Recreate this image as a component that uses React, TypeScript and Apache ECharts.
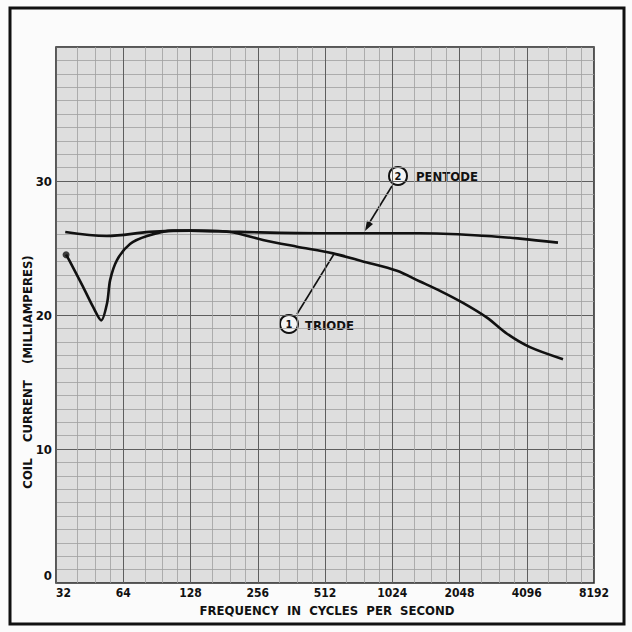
import React, { useEffect, useRef } from "react";
import * as echarts from "echarts";

const xTicks = [32, 64, 128, 256, 512, 1024, 2048, 4096, 8192];
const yTicks = [0, 10, 20, 30];

const triodeFreq = [35.5, 36.9, 42.3, 46.9, 51, 54.2, 55.9, 60, 68.6, 81.8, 107, 127, 192, 270, 384, 556, 757, 1075, 1363, 1675, 2123, 2718, 3342, 4232, 5950];
const triodeMA = [24.5, 24.0, 22.1, 20.6, 19.6, 20.9, 22.6, 24.1, 25.3, 25.9, 26.3, 26.3, 26.2, 25.6, 25.1, 24.6, 24.0, 23.3, 22.5, 21.8, 20.9, 19.8, 18.6, 17.6, 16.7];

const pentodeFreq = [35.2, 54, 84, 127, 213, 512, 1363, 2718, 3821, 5651];
const pentodeMA = [26.2, 25.9, 26.2, 26.3, 26.2, 26.1, 26.1, 25.9, 25.7, 25.4];

const xTitle = "FREQUENCY  IN  CYCLES  PER  SECOND";
const yTitle = "COIL    CURRENT    (MILLIAMPERES)";
const pentodeLabel = "PENTODE";
const triodeLabel = "TRIODE";

const FONT = "DejaVu Sans Condensed";

export default function App() {
  const ref = useRef<HTMLDivElement>(null);
  useEffect(() => {
    if (!ref.current) return;
    const chart = echarts.init(ref.current, null, { renderer: "svg" });
    const triode = triodeFreq.map((f, i) => [f, triodeMA[i]]);
    const pentode = pentodeFreq.map((f, i) => [f, pentodeMA[i]]);
    chart.setOption({
      animation: false,
      backgroundColor: "#fbfbfb",
      grid: {
        left: 56,
        right: 38,
        top: 47,
        bottom: 49,
        show: true,
        backgroundColor: "#dedede",
        borderColor: "#222",
        borderWidth: 1.5,
      },
      xAxis: {
        type: "log",
        logBase: 2,
        min: xTicks[0],
        max: xTicks[xTicks.length - 1],
        axisLine: { show: false },
        axisTick: { show: false },
        axisLabel: {
          formatter: (v: number) => String(Math.round(v)),
          color: "#111",
          fontWeight: "bold",
          fontSize: 12,
          fontFamily: FONT,
          margin: 4,
          alignMinLabel: "left",
        },
        splitLine: { show: true, lineStyle: { color: "#5e5e5e", width: 1 } },
        minorTick: { show: false, splitNumber: 4 },
        minorSplitLine: { show: true, lineStyle: { color: "#a0a0a0", width: 0.8 } },
      },
      yAxis: {
        type: "value",
        min: yTicks[0],
        max: 40,
        interval: 10,
        axisLine: { show: false },
        axisTick: { show: false },
        axisLabel: {
          formatter: (v: number) => (yTicks.includes(v) && v !== 0 ? String(v) : ""),
          color: "#111",
          fontWeight: "bold",
          fontSize: 13,
          fontFamily: FONT,
          margin: 4,
        },
        splitLine: { show: true, lineStyle: { color: "#5e5e5e", width: 1 } },
        minorTick: { show: false, splitNumber: 10 },
        minorSplitLine: { show: true, lineStyle: { color: "#a0a0a0", width: 0.8 } },
      },
      series: [
        {
          type: "line",
          name: "Triode",
          data: triode,
          smooth: 0.3,
          showSymbol: false,
          lineStyle: { color: "#111", width: 2.6 },
        },
        {
          type: "line",
          name: "Pentode",
          data: pentode,
          smooth: 0.35,
          showSymbol: false,
          lineStyle: { color: "#111", width: 2.6 },
        },
        {
          type: "scatter",
          data: [triode[0]],
          symbolSize: 7,
          itemStyle: { color: "#111" },
        },
      ],
      graphic: [
        {
          type: "rect",
          shape: { x: 10, y: 8, width: 614, height: 616 },
          style: { fill: "none", stroke: "#111", lineWidth: 3 },
        },
        {
          type: "text",
          x: 52,
          y: 575,
          style: {
            text: String(yTicks[0]),
            fill: "#111",
            font: `bold 13px "${FONT}"`,
            textAlign: "right",
            textVerticalAlign: "middle",
          },
        },
        {
          type: "text",
          x: 27,
          y: 372,
          rotation: Math.PI / 2,
          style: {
            text: yTitle,
            fill: "#111",
            font: `bold 13px "${FONT}"`,
            textAlign: "center",
            textVerticalAlign: "middle",
          },
        },
        {
          type: "text",
          x: 327,
          y: 610,
          style: {
            text: xTitle,
            fill: "#111",
            font: `bold 13px "${FONT}"`,
            textAlign: "center",
            textVerticalAlign: "middle",
          },
        },
        {
          type: "circle",
          shape: { cx: 398, cy: 176, r: 9 },
          style: { fill: "#f4f4f4", stroke: "#111", lineWidth: 2 },
        },
        {
          type: "text",
          x: 398,
          y: 176,
          style: { text: "2", fill: "#111", font: `bold 11px "${FONT}"`, textAlign: "center", textVerticalAlign: "middle" },
        },
        {
          type: "text",
          x: 416,
          y: 176,
          style: { text: pentodeLabel, fill: "#111", font: `bold 13px "${FONT}"`, textAlign: "left", textVerticalAlign: "middle" },
        },
        {
          type: "line",
          shape: { x1: 392, y1: 186, x2: 368, y2: 225 },
          style: { stroke: "#111", lineWidth: 1.6 },
        },
        {
          type: "polygon",
          shape: { points: [[365, 231], [373, 224], [367, 220.5]] },
          style: { fill: "#111" },
        },
        {
          type: "circle",
          shape: { cx: 289, cy: 324, r: 9 },
          style: { fill: "#f4f4f4", stroke: "#111", lineWidth: 2 },
        },
        {
          type: "text",
          x: 289,
          y: 324,
          style: { text: "1", fill: "#111", font: `bold 11px "${FONT}"`, textAlign: "center", textVerticalAlign: "middle" },
        },
        {
          type: "text",
          x: 305,
          y: 325,
          style: { text: triodeLabel, fill: "#111", font: `bold 13px "${FONT}"`, textAlign: "left", textVerticalAlign: "middle" },
        },
        {
          type: "line",
          shape: { x1: 297, y1: 314, x2: 334, y2: 254 },
          style: { stroke: "#111", lineWidth: 1.6 },
        },
      ],
    });
    return () => chart.dispose();
  }, []);
  return (
    <div
      ref={ref}
      style={{ position: "fixed", left: 0, top: 0, width: 632, height: 632 }}
    />
  );
}
